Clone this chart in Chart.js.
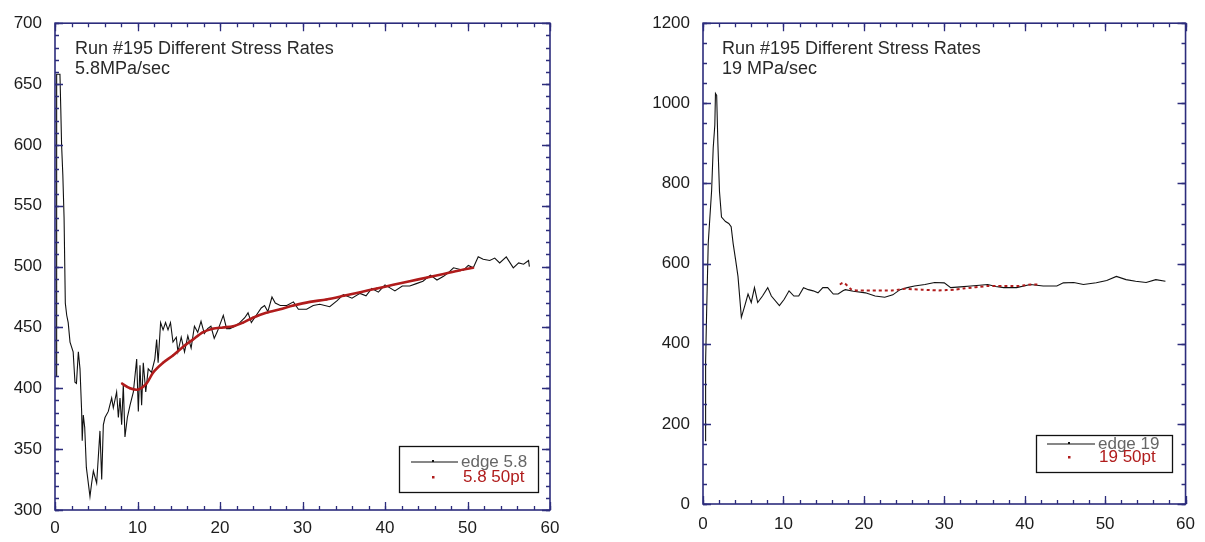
<!DOCTYPE html>
<html><head><meta charset="utf-8">
<script src="https://cdn.jsdelivr.net/npm/chart.js@4.4.1/dist/chart.umd.min.js"></script>
<style>
html,body{margin:0;padding:0;background:#fff;width:1205px;height:542px;overflow:hidden;}
#w1{position:absolute;left:0;top:0;width:600px;height:542px;}
#w2{position:absolute;left:600px;top:0;width:605px;height:542px;}
</style></head><body>
<div id="w1"><canvas id="c1"></canvas></div>
<div id="w2"><canvas id="c2"></canvas></div>
<script>
// ---- data: left panel (5.8 MPa/sec) ----
const edge58T = [0.15,0.2,0.6,0.7,0.8,0.95,1.1,1.25,1.42,1.6,1.82,2.2,2.42,2.6,2.83,3.03,3.23,3.3,3.43,3.6,3.8,4.24,4.44,4.65,5.05,5.45,5.66,5.86,6.06,6.46,6.87,7.07,7.47,7.68,7.88,8.08,8.28,8.48,8.77,9.09,9.5,9.9,10.1,10.3,10.5,10.7,11.0,11.3,11.7,12.1,12.32,12.5,12.8,13.1,13.4,13.7,14.0,14.3,14.7,14.9,15.3,15.7,16.1,16.5,16.9,17.3,17.7,18.1,18.5,18.9,19.3,19.7,20.4,20.8,21.2,21.8,22.4,23.0,23.4,23.8,24.4,25.0,25.4,25.8,26.3,26.7,27.3,28.1,28.9,29.5,30.5,31.3,32.1,33.3,34.2,34.95,36.0,36.97,37.7,38.4,39.2,40.0,41.2,42.1,43.0,43.8,44.6,45.5,46.3,47.1,47.7,48.3,49.5,50.1,50.7,51.3,51.9,52.7,53.3,53.9,54.7,55.55,56.2,56.8,57.4,57.5];
const edge58V = [410,658,658,630,600,575,540,470,460,454,438,430,405,404,430,416,381,357,378,368,335,311,322,332,322,365,325,370,376,381,392,384,397,376,392,370,403,360,376,386,397,424,381,419,386,421,397,416,413,424,440,421,454,448,454,448,454,438,442,430,442,430,443,433,451,446,455,445,449,451,441,447,460,449,449,451,454,458,462,454,460,466,468,463,475,470,468,468,471,465,465,468,469,467,472,477,474,478,476,482,479,485,480,484,484,486,488,493,489,492,495,499,497,501,499,508,506,505,507,503,508,499,503,502,505,500];
const fit58T = [8.1,9.1,10.1,11.1,11.9,13.1,14.3,15.5,16.7,17.9,19.1,20.4,21.6,22.8,24.0,25.6,27.3,28.9,30.9,32.9,35.0,37.0,39.0,41.0,43.0,45.1,47.1,49.1,50.7];
const fit58V = [404,400,399,404,413,421,427,434,440,446,449,450,451,454,458,462,465,468,471,473,476,479,482,485,488,491,494,497,499];
// ---- data: right panel (19 MPa/sec) ----
const edge19T = [0.25,0.3,0.35,0.45,0.65,0.86,1.07,1.27,1.47,1.55,1.7,1.85,2.05,2.3,2.8,3.2,3.5,3.75,4.05,4.35,4.77,5.2,5.6,6.0,6.4,6.8,7.4,8.05,8.5,9.5,10.1,10.7,11.3,11.9,12.5,13.1,13.7,14.3,14.9,15.5,16.2,16.8,17.4,17.7,18.7,20.2,21.4,22.6,23.6,24.5,25.4,26.3,27.6,28.8,30.0,30.8,32.0,33.3,34.4,35.4,36.4,37.4,39.0,40.7,42.3,44.0,44.8,46.1,47.3,48.9,50.2,51.4,52.6,53.8,55.1,56.3,57.5];
const edge19V = [158,250,355,478,650,717,782,889,946,1025,1020,900,780,716,705,700,692,650,610,568,466,495,524,503,540,503,519,540,519,495,511,532,519,519,540,535,532,527,540,540,524,524,532,535,531,527,519,516,522,535,540,544,548,553,552,540,542,544,546,548,543,540,540,548,544,544,552,553,548,552,558,568,560,556,553,560,556];
const fit19T = [17.0,17.5,18.5,19.3,20.2,21.0,21.8,22.6,23.5,24.3,25.1,26.1,27.2,28.2,29.3,30.3,31.3,32.4,33.4,34.4,35.4,36.5,37.5,38.4,39.2,40.0,40.8,41.6];
const fit19V = [548,552,535,533,533,533,533,533,533,535,537,536,535,534,533,534,535,538,540,542,544,544,544,544,544,546,548,548];
// ---- tick / text labels ----
const xTicks = [0,10,20,30,40,50,60];
const yTicksLeft = [300,350,400,450,500,550,600,650,700];
const yTicksRight = [0,200,400,600,800,1000,1200];
const titleLeft = ["Run #195 Different Stress Rates","5.8MPa/sec"];
const titleRight = ["Run #195 Different Stress Rates","19 MPa/sec"];
const legendLeft = ["edge 5.8","5.8 50pt"];
const legendRight = ["edge 19","19 50pt"];

const AXIS = '#2c2c7c';
const FONT = '"Liberation Sans", Arial, Helvetica, sans-serif';
const RED = '#b01c1c';

const pts = (T,V)=>T.map((t,i)=>({x:t,y:V[i]}));

const deco = {
  id:'deco',
  afterDatasetsDraw(chart, args, o){
    const {ctx, chartArea:a, scales:{x,y}} = chart;
    ctx.save();
    ctx.strokeStyle = AXIS; ctx.lineWidth = 1.6;
    ctx.strokeRect(a.left, a.top, a.right-a.left, a.bottom-a.top);
    ctx.lineWidth = 1.3;
    const tick=(scale, step, len, isX)=>{
      for(let v=scale.min; v<=scale.max+1e-9; v+=step){
        const p=Math.round(scale.getPixelForValue(v))+0.5;
        ctx.beginPath();
        if(isX){ ctx.moveTo(p,a.bottom); ctx.lineTo(p,a.bottom-len); ctx.moveTo(p,a.top); ctx.lineTo(p,a.top+len);}
        else { ctx.moveTo(a.left,p); ctx.lineTo(a.left+len,p); ctx.moveTo(a.right,p); ctx.lineTo(a.right-len,p);}
        ctx.stroke();
      }
    };
    tick(x,o.minorX,4,true); tick(x,o.majorX,8,true);
    tick(y,o.minorY,4,false); tick(y,o.majorY,8,false);
    // title text
    ctx.fillStyle='#2a2a2a'; ctx.font='18px '+FONT; ctx.textAlign='left'; ctx.textBaseline='alphabetic';
    o.title.forEach((t,i)=>ctx.fillText(t, a.left+o.titleDX, a.top+o.titleDY+i*19.5));
    // legend
    const L=o.legend;
    ctx.strokeStyle='#111'; ctx.lineWidth=1.3;
    ctx.strokeRect(L.x+0.5, L.y+0.5, L.w, L.h);
    ctx.lineWidth=1.2; ctx.strokeStyle='#111';
    ctx.beginPath(); ctx.moveTo(L.lx0, L.ly1); ctx.lineTo(L.lx1, L.ly1); ctx.stroke();
    ctx.fillStyle='#111'; ctx.fillRect(L.mx-1, L.ly1-2, 2, 2);
    ctx.fillStyle=RED; ctx.fillRect(L.mx-1, L.ly2-1, 2.5, 2.5);
    ctx.font='17px '+FONT; ctx.textBaseline='middle';
    ctx.fillStyle='#666'; ctx.fillText(L.text[0], L.tx1, L.ly1);
    ctx.fillStyle=RED; ctx.fillText(L.text[1], L.tx2, L.ly2);
    ctx.restore();
  }
};

function makeChart(id, cfg){
  const tickFont = {family:FONT, size:17};
  return new Chart(document.getElementById(id), {
    type:'scatter',
    data:{datasets:[
      {label:cfg.legend.text[0], data:pts(cfg.eT,cfg.eV), showLine:true, borderColor:'#111', borderWidth:1.1, pointRadius:0, tension:0, order:2},
      {label:cfg.legend.text[1], data:pts(cfg.fT,cfg.fV), showLine:true, borderColor:RED, backgroundColor:RED, borderWidth:cfg.redW, borderDash:cfg.redDash, pointRadius:cfg.redR, pointStyle:'rect', pointBorderWidth:0, tension:0.3, order:1}
    ]},
    options:{
      responsive:true, maintainAspectRatio:false, animation:false,
      layout:{padding:cfg.pad},
      plugins:{legend:{display:false}, tooltip:{enabled:false},
        deco:{title:cfg.title, titleDX:cfg.titleDX, titleDY:31, majorX:10, minorX:2, majorY:cfg.majorY, minorY:cfg.minorY, legend:cfg.legend}},
      scales:{
        x:{type:'linear', min:0, max:60, grid:{display:false, drawTicks:false}, border:{display:false},
           afterBuildTicks:s=>{s.ticks=xTicks.map(v=>({value:v}));},
           afterFit:s=>{s.height=cfg.xh;},
           ticks:{font:tickFont, color:'#1c1c1c', padding:cfg.xpad, maxRotation:0, callback:v=>String(v)}},
        y:{type:'linear', min:cfg.ymin, max:cfg.ymax, grid:{display:false, drawTicks:false}, border:{display:false},
           afterBuildTicks:s=>{s.ticks=cfg.yTicks.map(v=>({value:v}));},
           afterFit:s=>{s.width=cfg.yw;},
           ticks:{font:tickFont, color:'#1c1c1c', padding:13, callback:v=>String(v)}}
      }
    },
    plugins:[deco]
  });
}

makeChart('c1', {eT:edge58T, eV:edge58V, fT:fit58T, fV:fit58V, redW:2.6, redDash:[], redR:1.3,
  pad:{left:0,right:50,top:17,bottom:0}, xh:32, yw:55, xpad:8, ymin:300, ymax:700, yTicks:yTicksLeft,
  majorY:50, minorY:10, title:titleLeft, titleDX:20,
  legend:{x:399,y:446,w:139,h:46,lx0:411,lx1:458,ly1:462,ly2:477,mx:433,tx1:461,tx2:463,text:legendLeft}});

makeChart('c2', {eT:edge19T, eV:edge19V, fT:fit19T, fV:fit19V, redW:2, redDash:[3,3], redR:0,
  pad:{left:0,right:15,top:17,bottom:0}, xh:38, yw:103, xpad:10, ymin:0, ymax:1200, yTicks:yTicksRight,
  majorY:200, minorY:50, title:titleRight, titleDX:19,
  legend:{x:436,y:435,w:136,h:37,lx0:447,lx1:495,ly1:444,ly2:457,mx:469,tx1:498,tx2:499,text:legendRight}});
</script>
</body></html>
